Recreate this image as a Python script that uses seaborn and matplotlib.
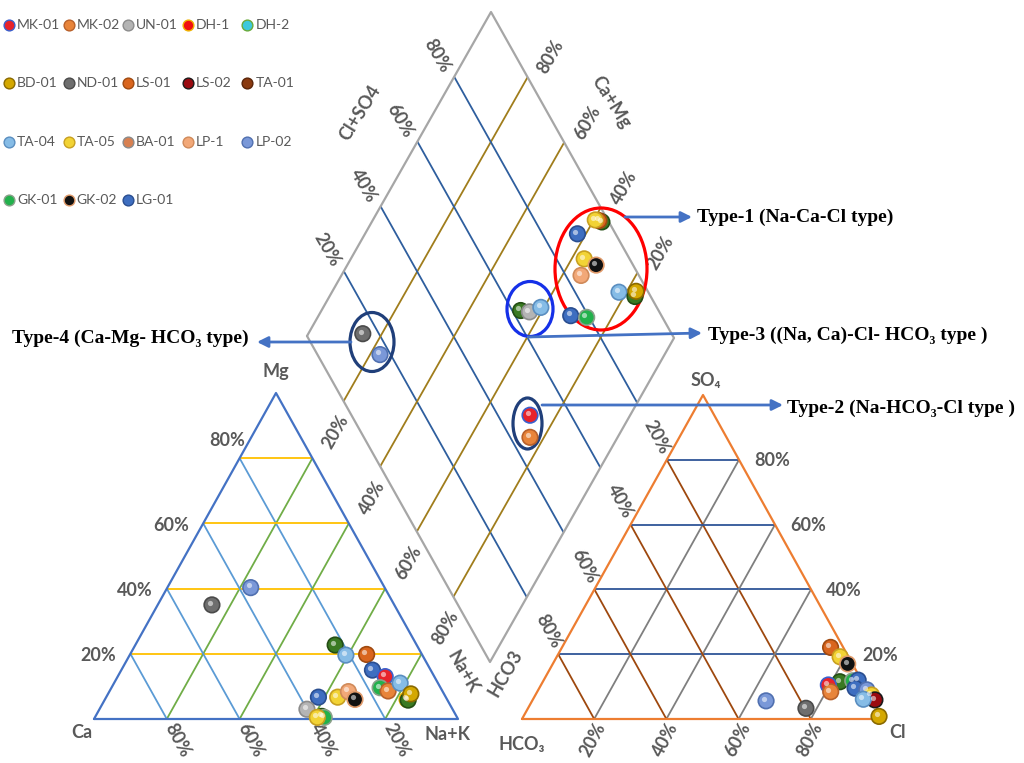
import matplotlib
matplotlib.use("Agg")
import matplotlib.pyplot as plt
from matplotlib.patches import Ellipse
import numpy as np
import pandas as pd
import seaborn as sns

sns.set_theme(style="white")
plt.rcParams["font.family"] = ["Lato", "DejaVu Sans"]

# ---- data -------------------------------------------------------------
samples = ["MK-01", "MK-02", "UN-01", "DH-1", "DH-2",
           "BD-01", "ND-01", "LS-01", "LS-02", "TA-01",
           "TA-04", "TA-05", "BA-01", "LP-1", "LP-02",
           "GK-01", "GK-02", "LG-01"]

# cation triangle: % Mg, % Na+K
cat_sample = ["LP-02", "ND-01", "dark", "TA-04", "LS-01", "LG-01", "MK-01",
              "GK-01", "MK-02", "TA-04", "DH-1", "dark", "BD-01", "LG-01",
              "TA-05", "LP-1", "GK-02", "UN-01", "dark", "GK-01", "TA-05"]
cat_mg = [40.3, 35.0, 22.7, 19.6, 19.8, 15.0, 13.0, 9.6, 8.6, 11.0, 6.0, 5.8,
          7.7, 6.7, 6.7, 8.4, 6.0, 3.0, 0.8, 0.5, 0.5]
cat_nak = [22.9, 14.9, 54.9, 59.4, 65.0, 69.0, 73.5, 73.8, 76.5, 78.6, 83.0,
           83.4, 83.2, 58.3, 63.6, 65.7, 68.7, 57.0, 62.2, 63.0, 61.1]

# anion triangle: % SO4, % Cl
an_sample = ["LS-01", "TA-05", "GK-02", "dark", "GK-01", "LG-01", "MK-01",
             "MK-02", "LG-01", "LP-02", "TA-05", "LS-02", "TA-04", "BD-01",
             "LP-02", "ND-01"]
an_so4 = [22.1, 19.2, 17.0, 11.5, 11.8, 12.0, 10.5, 8.4, 9.5, 9.0, 7.4, 5.9,
          6.1, 0.8, 5.6, 3.3]
an_cl = [74.4, 78.5, 81.7, 82.3, 85.7, 87.1, 79.6, 81.3, 87.5, 91.0, 93.1,
         94.8, 91.5, 98.5, 64.8, 77.0]

# diamond: % Cl+SO4, % Na+K
dia_sample = ["dark", "LS-01", "TA-05", "LG-01", "TA-05", "GK-02", "LP-1",
              "TA-04", "dark", "BD-01", "LG-01", "GK-01", "dark", "UN-01",
              "TA-04", "ND-01", "LP-02", "MK-01", "MK-02"]
dia_clso4 = [98.1, 97.5, 96.6, 89.6, 87.6, 89.9, 84.2, 92.0, 95.7, 96.8,
             75.2, 79.3, 62.3, 64.5, 68.3, 15.6, 17.1, 48.8, 45.4]
dia_nak = [62.5, 61.5, 60.4, 57.7, 63.4, 67.6, 65.1, 78.0, 83.0, 82.5, 68.5,
           73.1, 54.1, 56.7, 59.1, 14.8, 22.7, 72.8, 76.2]

pct_ticks = ["20%", "40%", "60%", "80%"]

# ---- styles -----------------------------------------------------------
face = {"MK-01": "#E8232A", "MK-02": "#E8843A", "UN-01": "#B4B4B4",
        "DH-1": "#F01010", "DH-2": "#3CC8DC", "BD-01": "#D4A800",
        "ND-01": "#6E6E6E", "LS-01": "#D9651E", "LS-02": "#9A0A10",
        "TA-01": "#8A3A10", "TA-04": "#86BCE6", "TA-05": "#F2D335",
        "BA-01": "#D88050", "LP-1": "#F2A878", "LP-02": "#7A98D8",
        "GK-01": "#22B14C", "GK-02": "#111111", "LG-01": "#3E6EC0",
        "dark": "#3A7A22"}
edge = {"MK-01": "#3A5FCD", "MK-02": "#B8602A", "UN-01": "#8C8C8C",
        "DH-1": "#F0B400", "DH-2": "#6AAA3A", "BD-01": "#8A6A00",
        "ND-01": "#4A4A4A", "LS-01": "#A04A10", "LS-02": "#1A1A1A",
        "TA-01": "#5A2408", "TA-04": "#5A8EC0", "TA-05": "#C8A020",
        "BA-01": "#8A8A8A", "LP-1": "#D08A5A", "LP-02": "#5070B0",
        "GK-01": "#8AA08A", "GK-02": "#E09A6A", "LG-01": "#2A4E90",
        "dark": "#244E14"}

TXT = "#595959"
LAB = dict(color=TXT, fontsize=13, fontweight="bold", ha="center", va="center")
SERIF = dict(family=["Liberation Serif", "DejaVu Serif"], fontsize=14,
             fontweight="bold", color="black", va="center")

# geometry (pixels)
CAT = ((94, 719), (458, 719), (276, 393))   # Ca, Na+K, Mg
AN = ((522, 719), (883, 719), (703, 395))   # HCO3, Cl, SO4
DL, DT, DB = np.array((307, 336)), np.array((491, 12)), np.array((490, 662))


def tri_xy(tri, top, right):
    L, R, T = (np.array(p, float) for p in tri)
    p = L + np.outer(right, R - L) + np.outer(top, T - L)
    return p[:, 0], p[:, 1]


def dia_xy(s, n):
    p = DL + np.outer(s, DT - DL) + np.outer(n, DB - DL)
    return p[:, 0], p[:, 1]


def seg(ax, a, b, color, lw=1.3):
    ax.plot([a[0], b[0]], [a[1], b[1]], color=color, lw=lw, zorder=2,
            solid_capstyle="butt")


def pt(tri, top, right):
    x, y = tri_xy(tri, [top], [right])
    return x[0], y[0]


fig = plt.figure(figsize=(10.24, 7.63), dpi=100)
ax = fig.add_axes([0, 0, 1, 1])

fr = np.array([0.2, 0.4, 0.6, 0.8])

# ---- cation triangle ----
for f in fr:
    seg(ax, pt(CAT, f, 0), pt(CAT, f, 1 - f), "#FFC000")
    seg(ax, pt(CAT, 0, f), pt(CAT, 1 - f, f), "#70AD47")
    seg(ax, pt(CAT, 0, 1 - f), pt(CAT, 1 - f, 0), "#5B9BD5")
cx = [p[0] for p in CAT] + [CAT[0][0]]
cy = [p[1] for p in CAT] + [CAT[0][1]]
ax.plot(cx, cy, color="#4472C4", lw=1.6, zorder=2)

# ---- anion triangle ----
for f in fr:
    seg(ax, pt(AN, f, 0), pt(AN, f, 1 - f), "#2F5597")
    seg(ax, pt(AN, 0, f), pt(AN, 1 - f, f), "#7F7F7F")
    seg(ax, pt(AN, 0, 1 - f), pt(AN, 1 - f, 0), "#9E480E")
axx = [p[0] for p in AN] + [AN[0][0]]
ayy = [p[1] for p in AN] + [AN[0][1]]
ax.plot(axx, ayy, color="#ED7D31", lw=1.6, zorder=2)

# ---- diamond ----
for f in fr:
    a = DL + f * (DT - DL)
    seg(ax, a, a + (DB - DL), "#2E5E9E")
    b = DL + f * (DB - DL)
    seg(ax, b, b + (DT - DL), "#A07D1C")
DR = DT + DB - DL
dpoly = np.array([DL, DT, DR, DB, DL])
ax.plot(dpoly[:, 0], dpoly[:, 1], color="#A6A6A6", lw=1.6, zorder=2)

# ---- points ----
cx, cy = tri_xy(CAT, np.array(cat_mg) / 100, np.array(cat_nak) / 100)
ax_, ay_ = tri_xy(AN, np.array(an_so4) / 100, np.array(an_cl) / 100)
dx, dy = dia_xy(np.array(dia_clso4) / 100, np.array(dia_nak) / 100)
df = pd.DataFrame({
    "x": np.concatenate([cx, ax_, dx]),
    "y": np.concatenate([cy, ay_, dy]),
    "sample": cat_sample + an_sample + dia_sample,
})
sns.scatterplot(data=df, x="x", y="y", hue="sample", palette=face, s=125,
                edgecolor=[edge[k] for k in df["sample"]], linewidth=1.2,
                legend=False, ax=ax, zorder=4)
hl = df.assign(x=df["x"] - 2.2, y=df["y"] - 2.2)
sns.scatterplot(data=hl, x="x", y="y", color="white", s=14, alpha=0.55,
                linewidth=0, legend=False, ax=ax, zorder=5)
ax.set_xlim(0, 1024)
ax.set_ylim(763, 0)
ax.axis("off")

# ---- tick labels ----
for f, t in zip(fr, pct_ticks):
    # cation triangle: Mg on left edge
    x, y = pt(CAT, f, 0)
    if f == 0.8:
        ax.text(x - 12, y - 18, t, **LAB)
    else:
        ax.text(x - 32, y + 2, t, **LAB)
    # cation bottom: Ca
    x, y = pt(CAT, 0, 1 - f)
    ax.text(x + 11, y + 21, t, rotation=-62, **LAB)
    # anion bottom: Cl
    x, y = pt(AN, 0, f)
    ax.text(x - 1, y + 21, t, rotation=62, **LAB)
    # anion left: HCO3
    x, y = pt(AN, 1 - f, 0)
    ax.text(x - 10, y - 23, t, rotation=-62, **LAB)
    # anion right: SO4
    x, y = pt(AN, f, 1 - f)
    ax.text(x + 33, y + 1, t, **LAB)
    # diamond upper-left: Cl+SO4
    p = DL + f * (DT - DL)
    ax.text(p[0] - 17, p[1] - 21, t, rotation=-60, **LAB)
    # diamond upper-right: Ca+Mg
    p = DT + (1 - f) * (DB - DL)
    ax.text(p[0] + 23, p[1] - 20, t, rotation=60, **LAB)
    # diamond lower-left: Na+K
    p = DL + f * (DB - DL)
    ax.text(p[0] - 8, p[1] + 31, t, rotation=60, **LAB)

ax.text(276, 372, "Mg", **LAB)
ax.text(82, 733, "Ca", **LAB)
ax.text(447, 735, "Na+K", **LAB)
ax.text(706, 381, "SO₄", **LAB)
ax.text(522, 744, "HCO₃", **LAB)
ax.text(897, 733, "Cl", **LAB)
ax.text(360, 113, "Cl+SO4", rotation=58, **LAB)
ax.text(611, 102, "Ca+Mg", rotation=-58, **LAB)
ax.text(463, 672, "Na+K", rotation=-60, **LAB)
ax.text(505, 673, "HCO3", rotation=60, **LAB)

# ---- water type groups ----
for (xc, yc, w, h, col) in [(601, 269, 92, 122, "#FF0000"),
                            (530, 309, 46, 55, "#1530E8"),
                            (372, 342, 44, 59, "#203F7A"),
                            (527.5, 423.5, 29, 51, "#203F7A")]:
    ax.add_patch(Ellipse((xc, yc), w, h, fill=False, ec=col, lw=2.3,
                         zorder=3))

arrow = dict(arrowstyle="-|>", color="#4472C4", lw=2, mutation_scale=16,
             shrinkA=0, shrinkB=0)
ax.annotate("", xy=(692, 217), xytext=(625, 217), arrowprops=arrow)
ax.text(697, 217, "Type-1 (Na-Ca-Cl type)", **SERIF)
ax.annotate("", xy=(702, 333), xytext=(528, 337), arrowprops=arrow)
ax.text(708, 335, "Type-3 ((Na, Ca)-Cl- HCO₃ type )", **SERIF)
ax.annotate("", xy=(257, 342), xytext=(351, 342), arrowprops=arrow)
ax.text(12, 338, "Type-4 (Ca-Mg- HCO₃ type)", **SERIF)
ax.annotate("", xy=(783, 405), xytext=(542, 405), arrowprops=arrow)
ax.text(787, 408, "Type-2 (Na-HCO₃-Cl type )", **SERIF)

# ---- legend ----
for i, name in enumerate(samples):
    r, c = divmod(i, 5)
    lx, ly = 9 + 59.6 * c, 25 + 58.3 * r
    ax.scatter([lx], [ly], s=60, color=face[name], edgecolor=edge[name],
               linewidth=1.0, zorder=4)
    ax.text(lx + 8, ly, name, color=TXT, fontsize=10, va="center",
            ha="left")

fig.savefig("out.png", dpi=100)
